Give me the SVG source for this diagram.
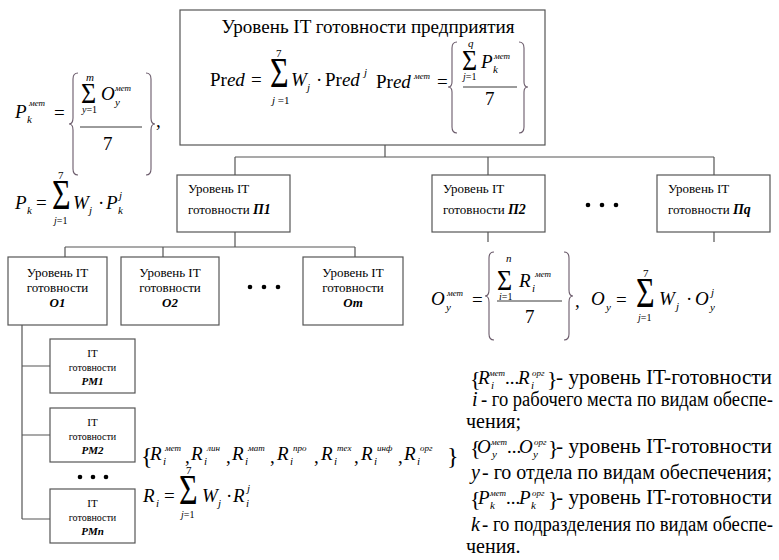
<svg xmlns="http://www.w3.org/2000/svg" width="779" height="560" viewBox="0 0 779 560">
<style>
text{font-family:"Liberation Serif",serif}
.i{font-style:italic}
.bi{font-style:italic;font-weight:bold}
.box{fill:#fff;stroke:#555;stroke-width:1.2}
.ln{stroke:#555;fill:none;stroke-width:1.2}
.br{stroke:#6a5a6a;fill:none;stroke-width:1.1}
.fl{stroke:#222;stroke-width:0.9}
.dot{fill:#000}
.m{font-size:19px}
.s{font-size:11px}
.ss{font-size:9px}
.bx{font-size:13px}
.rm{font-size:11px}
.tx{font-size:20px}
</style>

<g id="connectors">
<path class="ln" d="M385 145V157M235 157H714M235 157V175M488 157V175M714 157V175"/>
<path class="ln" d="M235 232V247M65 247H355M65 247V257M163 247V257M355 247V257"/>
<path class="ln" d="M488 232V242M714 232V242"/>
<path class="ln" d="M22 325V519M22 366H50M22 435H50M22 519H50"/>
</g>

<g id="node-enterprise">
<rect class="box" x="180" y="10" width="365" height="135"/>
<text font-family="Liberation Serif" x="368" y="33" font-size="19" text-anchor="middle" textLength="293" lengthAdjust="spacingAndGlyphs">Уровень IT готовности предприятия</text>
<text font-family="Liberation Serif" class="m" x="210" y="86">Pr<tspan class="i">ed</tspan></text>
<text font-family="Liberation Serif" class="m" x="251" y="86">=</text>
<text font-family="Liberation Serif" font-size="32" transform="translate(270 87) scale(1 1.35)">Σ</text>
<text font-family="Liberation Serif" class="s" x="276" y="57">7</text>
<text font-family="Liberation Serif" class="s" x="272" y="104"><tspan class="i">j</tspan> =1</text>
<text font-family="Liberation Serif" class="m i" x="291" y="86">W</text>
<text font-family="Liberation Serif" class="s i" x="307" y="91">j</text>
<text font-family="Liberation Serif" class="m" x="316" y="86">·</text>
<text font-family="Liberation Serif" class="m" x="325" y="86">Pr<tspan class="i">ed</tspan></text>
<text font-family="Liberation Serif" class="s i" x="364" y="76">j</text>
<text font-family="Liberation Serif" class="m" x="376" y="88">Pr<tspan class="i">ed</tspan></text>
<text font-family="Liberation Serif" class="ss i" x="414" y="79">мет</text>
<text font-family="Liberation Serif" class="m" x="437" y="88">=</text>
<path class="br" d="M457 42Q452 42 452 48V82Q452 87 448 87Q452 87 452 92V127Q452 133 457 133"/>
<text font-family="Liberation Serif" font-size="26" transform="translate(462 70) scale(1 1.1)">Σ</text>
<text font-family="Liberation Serif" class="s i" x="468" y="47">q</text>
<text font-family="Liberation Serif" font-size="10" x="463" y="80"><tspan class="i">j</tspan>=1</text>
<text font-family="Liberation Serif" class="m i" x="481" y="68">P</text>
<text font-family="Liberation Serif" class="s i" x="493" y="73">k</text>
<text font-family="Liberation Serif" class="ss i" x="494" y="59">мет</text>
<line class="fl" x1="463" y1="87" x2="517" y2="87"/>
<text font-family="Liberation Serif" class="m" x="485" y="105">7</text>
<path class="br" d="M519 42Q524 42 524 48V82Q524 87 528 87Q524 87 524 92V127Q524 133 519 133"/>
</g>

<g id="formula-pk">
<text font-family="Liberation Serif" class="m i" x="15" y="118">P</text>
<text font-family="Liberation Serif" class="s i" x="27" y="123">k</text>
<text font-family="Liberation Serif" class="ss i" x="29" y="106">мет</text>
<text font-family="Liberation Serif" class="m" x="54" y="119">=</text>
<path class="br" d="M78 73Q73 73 73 79V118Q73 124 69 124Q73 124 73 130V169Q73 175 78 175"/>
<text font-family="Liberation Serif" font-size="26" transform="translate(81 103) scale(1 1.1)">Σ</text>
<text font-family="Liberation Serif" class="s i" x="86" y="81">m</text>
<text font-family="Liberation Serif" font-size="10" x="82" y="113"><tspan class="i">y</tspan>=1</text>
<text font-family="Liberation Serif" class="m i" x="101" y="100">O</text>
<text font-family="Liberation Serif" class="s i" x="115" y="106">y</text>
<text font-family="Liberation Serif" class="ss i" x="115" y="91">мет</text>
<line class="fl" x1="80" y1="127" x2="142" y2="127"/>
<text font-family="Liberation Serif" class="m" x="103" y="150">7</text>
<path class="br" d="M146 73Q151 73 151 79V118Q151 124 155 124Q151 124 151 130V169Q151 175 146 175"/>
<text font-family="Liberation Serif" class="m" x="156" y="127">,</text>
<text font-family="Liberation Serif" class="m i" x="15" y="209">P</text>
<text font-family="Liberation Serif" class="s i" x="27" y="214">k</text>
<text font-family="Liberation Serif" class="m" x="36" y="209">=</text>
<text font-family="Liberation Serif" font-size="32" transform="translate(52 209) scale(1 1.35)">Σ</text>
<text font-family="Liberation Serif" class="s" x="58" y="179">7</text>
<text font-family="Liberation Serif" font-size="10" x="54" y="224"><tspan class="i">j</tspan>=1</text>
<text font-family="Liberation Serif" class="m i" x="73" y="209">W</text>
<text font-family="Liberation Serif" class="s i" x="89" y="214">j</text>
<text font-family="Liberation Serif" class="m" x="98" y="209">·</text>
<text font-family="Liberation Serif" class="m i" x="106" y="209">P</text>
<text font-family="Liberation Serif" class="s i" x="118" y="214">k</text>
<text font-family="Liberation Serif" class="s i" x="119" y="199">j</text>
</g>

<g id="node-p1">
<rect class="box" x="177" y="175" width="113" height="57"/>
<text font-family="Liberation Serif" class="bx" x="188" y="193">Уровень IT</text>
<text font-family="Liberation Serif" class="bx" x="188" y="214">готовности <tspan class="bi" font-size="14">П1</tspan></text>
</g>
<g id="node-p2">
<rect class="box" x="432" y="175" width="113" height="57"/>
<text font-family="Liberation Serif" class="bx" x="443" y="193">Уровень IT</text>
<text font-family="Liberation Serif" class="bx" x="443" y="214">готовности <tspan class="bi" font-size="14">П2</tspan></text>
</g>
<g id="dots-p">
<circle class="dot" cx="588" cy="205" r="2.3"/><circle class="dot" cx="602" cy="205" r="2.3"/><circle class="dot" cx="616" cy="205" r="2.3"/>
</g>
<g id="node-pq">
<rect class="box" x="657" y="175" width="113" height="57"/>
<text font-family="Liberation Serif" class="bx" x="668" y="193">Уровень IT</text>
<text font-family="Liberation Serif" class="bx" x="668" y="214">готовности <tspan class="bi" font-size="14">Пq</tspan></text>
</g>

<g id="node-o1">
<rect class="box" x="8" y="257" width="99" height="68"/>
<text font-family="Liberation Serif" class="bx" x="57.5" y="277" text-anchor="middle">Уровень IT</text>
<text font-family="Liberation Serif" class="bx" x="57.5" y="292" text-anchor="middle">готовности</text>
<text font-family="Liberation Serif" class="bx bi" x="57.5" y="307" text-anchor="middle">O1</text>
</g>
<g id="node-o2">
<rect class="box" x="121" y="257" width="98" height="68"/>
<text font-family="Liberation Serif" class="bx" x="170" y="277" text-anchor="middle">Уровень IT</text>
<text font-family="Liberation Serif" class="bx" x="170" y="292" text-anchor="middle">готовности</text>
<text font-family="Liberation Serif" class="bx bi" x="170" y="307" text-anchor="middle">O2</text>
</g>
<g id="dots-o">
<circle class="dot" cx="250" cy="287" r="2.3"/><circle class="dot" cx="264" cy="287" r="2.3"/><circle class="dot" cx="278" cy="287" r="2.3"/>
</g>
<g id="node-om">
<rect class="box" x="303" y="257" width="100" height="68"/>
<text font-family="Liberation Serif" class="bx" x="353" y="277" text-anchor="middle">Уровень IT</text>
<text font-family="Liberation Serif" class="bx" x="353" y="292" text-anchor="middle">готовности</text>
<text font-family="Liberation Serif" class="bx bi" x="353" y="307" text-anchor="middle">Om</text>
</g>

<g id="node-rm1">
<rect class="box" x="50" y="339" width="85" height="54"/>
<text font-family="Liberation Serif" class="rm" x="92.5" y="357" text-anchor="middle">IT</text>
<text font-family="Liberation Serif" font-size="10" x="92.5" y="371" text-anchor="middle">готовности</text>
<text font-family="Liberation Serif" class="rm bi" x="92.5" y="385" text-anchor="middle">PM1</text>
</g>
<g id="node-rm2">
<rect class="box" x="50" y="408" width="85" height="54"/>
<text font-family="Liberation Serif" class="rm" x="92.5" y="426" text-anchor="middle">IT</text>
<text font-family="Liberation Serif" font-size="10" x="92.5" y="440" text-anchor="middle">готовности</text>
<text font-family="Liberation Serif" class="rm bi" x="92.5" y="454" text-anchor="middle">PM2</text>
</g>
<g id="dots-rm">
<circle class="dot" cx="80" cy="477" r="2.3"/><circle class="dot" cx="93" cy="477" r="2.3"/><circle class="dot" cx="106" cy="477" r="2.3"/>
</g>
<g id="node-rmn">
<rect class="box" x="50" y="489" width="85" height="54"/>
<text font-family="Liberation Serif" class="rm" x="92.5" y="507" text-anchor="middle">IT</text>
<text font-family="Liberation Serif" font-size="10" x="92.5" y="521" text-anchor="middle">готовности</text>
<text font-family="Liberation Serif" class="rm bi" x="92.5" y="535" text-anchor="middle">PMn</text>
</g>

<g id="formula-oy">
<text font-family="Liberation Serif" class="m i" x="431" y="305">O</text>
<text font-family="Liberation Serif" class="s i" x="446" y="311">y</text>
<text font-family="Liberation Serif" class="ss i" x="447" y="296">мет</text>
<text font-family="Liberation Serif" class="m" x="472" y="306">=</text>
<path class="br" d="M494 252Q489 252 489 258V290Q489 296 485 296Q489 296 489 302V334Q489 340 494 340"/>
<text font-family="Liberation Serif" font-size="26" transform="translate(497 290) scale(1 1.1)">Σ</text>
<text font-family="Liberation Serif" class="s i" x="506" y="262">n</text>
<text font-family="Liberation Serif" font-size="10" x="499" y="300"><tspan class="i">i</tspan>=1</text>
<text font-family="Liberation Serif" class="m i" x="519" y="287">R</text>
<text font-family="Liberation Serif" class="s i" x="532" y="292">i</text>
<text font-family="Liberation Serif" class="ss i" x="535" y="277">мет</text>
<line class="fl" x1="497" y1="301" x2="562" y2="301"/>
<text font-family="Liberation Serif" class="m" x="525" y="323">7</text>
<path class="br" d="M564 252Q569 252 569 258V290Q569 296 573 296Q569 296 569 302V334Q569 340 564 340"/>
<text font-family="Liberation Serif" class="m" x="575" y="307">,</text>
<text font-family="Liberation Serif" class="m i" x="591" y="305">O</text>
<text font-family="Liberation Serif" class="s i" x="606" y="311">y</text>
<text font-family="Liberation Serif" class="m" x="616" y="306">=</text>
<text font-family="Liberation Serif" font-size="32" transform="translate(636 307) scale(1 1.35)">Σ</text>
<text font-family="Liberation Serif" class="s" x="643" y="277">7</text>
<text font-family="Liberation Serif" font-size="10" x="638" y="321"><tspan class="i">j</tspan>=1</text>
<text font-family="Liberation Serif" class="m i" x="659" y="305">W</text>
<text font-family="Liberation Serif" class="s i" x="676" y="310">j</text>
<text font-family="Liberation Serif" class="m" x="686" y="305">·</text>
<text font-family="Liberation Serif" class="m i" x="695" y="305">O</text>
<text font-family="Liberation Serif" class="s i" x="710" y="311">y</text>
<text font-family="Liberation Serif" class="s i" x="711" y="296">j</text>
</g>

<g id="formula-ri">
<text font-family="Liberation Serif" x="141" y="464" font-size="24">{</text>
<text font-family="Liberation Serif" class="m i" x="150" y="460">R</text><text font-family="Liberation Serif" class="s i" x="163" y="465">i</text><text font-family="Liberation Serif" class="ss i" x="165" y="451">мет</text>
<text font-family="Liberation Serif" class="m" x="185" y="463">,</text>
<text font-family="Liberation Serif" class="m i" x="191" y="460">R</text><text font-family="Liberation Serif" class="s i" x="204" y="465">i</text><text font-family="Liberation Serif" class="ss i" x="207" y="451">лин</text>
<text font-family="Liberation Serif" class="m" x="226" y="463">,</text>
<text font-family="Liberation Serif" class="m i" x="232" y="460">R</text><text font-family="Liberation Serif" class="s i" x="245" y="465">i</text><text font-family="Liberation Serif" class="ss i" x="248" y="451">мат</text>
<text font-family="Liberation Serif" class="m" x="270" y="463">,</text>
<text font-family="Liberation Serif" class="m i" x="277" y="460">R</text><text font-family="Liberation Serif" class="s i" x="290" y="465">i</text><text font-family="Liberation Serif" class="ss i" x="293" y="451">про</text>
<text font-family="Liberation Serif" class="m" x="314" y="463">,</text>
<text font-family="Liberation Serif" class="m i" x="321" y="460">R</text><text font-family="Liberation Serif" class="s i" x="334" y="465">i</text><text font-family="Liberation Serif" class="ss i" x="337" y="451">тех</text>
<text font-family="Liberation Serif" class="m" x="354" y="463">,</text>
<text font-family="Liberation Serif" class="m i" x="361" y="460">R</text><text font-family="Liberation Serif" class="s i" x="374" y="465">i</text><text font-family="Liberation Serif" class="ss i" x="377" y="451">инф</text>
<text font-family="Liberation Serif" class="m" x="398" y="463">,</text>
<text font-family="Liberation Serif" class="m i" x="404" y="460">R</text><text font-family="Liberation Serif" class="s i" x="417" y="465">i</text><text font-family="Liberation Serif" class="ss i" x="420" y="451">орг</text>
<text font-family="Liberation Serif" x="447" y="464" font-size="24">}</text>
<text font-family="Liberation Serif" class="m i" x="143" y="502">R</text>
<text font-family="Liberation Serif" class="s i" x="156" y="507">i</text>
<text font-family="Liberation Serif" class="m" x="164" y="502">=</text>
<text font-family="Liberation Serif" font-size="32" transform="translate(179 504) scale(1 1.35)">Σ</text>
<text font-family="Liberation Serif" class="s" x="186" y="474">7</text>
<text font-family="Liberation Serif" font-size="10" x="181" y="518"><tspan class="i">j</tspan>=1</text>
<text font-family="Liberation Serif" class="m i" x="202" y="502">W</text>
<text font-family="Liberation Serif" class="s i" x="218" y="507">j</text>
<text font-family="Liberation Serif" class="m" x="226" y="502">·</text>
<text font-family="Liberation Serif" class="m i" x="233" y="502">R</text>
<text font-family="Liberation Serif" class="s i" x="246" y="507">i</text>
<text font-family="Liberation Serif" class="s i" x="247" y="492">j</text>
</g>

<g id="legend">
<text font-family="Liberation Serif" x="470" y="386" font-size="22">{</text>
<text font-family="Liberation Serif" class="m i" x="478" y="384">R</text><text font-family="Liberation Serif" class="s i" x="491" y="389">i</text><text font-family="Liberation Serif" class="ss i" x="489" y="376">мет</text>
<text font-family="Liberation Serif" class="m" x="505" y="384">...</text>
<text font-family="Liberation Serif" class="m i" x="518" y="384">R</text><text font-family="Liberation Serif" class="s i" x="531" y="389">i</text><text font-family="Liberation Serif" class="ss i" x="532" y="376">орг</text>
<text font-family="Liberation Serif" x="547" y="386" font-size="22">}</text>
<text font-family="Liberation Serif" class="tx" x="556" y="384" textLength="216" lengthAdjust="spacingAndGlyphs">- уровень IT-готовности</text>
<text font-family="Liberation Serif" class="tx i" x="472" y="406">i</text>
<text font-family="Liberation Serif" class="tx" x="481" y="406" textLength="292" lengthAdjust="spacingAndGlyphs">- го рабочего места по видам обеспе-</text>
<text font-family="Liberation Serif" class="tx" x="466" y="428">чения;</text>
<text font-family="Liberation Serif" x="470" y="455" font-size="22">{</text>
<text font-family="Liberation Serif" class="m i" x="477" y="453">O</text><text font-family="Liberation Serif" class="s i" x="492" y="458">y</text><text font-family="Liberation Serif" class="ss i" x="491" y="445">мет</text>
<text font-family="Liberation Serif" class="m" x="507" y="453">...</text>
<text font-family="Liberation Serif" class="m i" x="519" y="453">O</text><text font-family="Liberation Serif" class="s i" x="533" y="458">y</text><text font-family="Liberation Serif" class="ss i" x="534" y="445">орг</text>
<text font-family="Liberation Serif" x="548" y="455" font-size="22">}</text>
<text font-family="Liberation Serif" class="tx" x="556" y="453" textLength="216" lengthAdjust="spacingAndGlyphs">- уровень IT-готовности</text>
<text font-family="Liberation Serif" class="tx i" x="471" y="479">y</text>
<text font-family="Liberation Serif" class="tx" x="482" y="479" textLength="290" lengthAdjust="spacingAndGlyphs">- го отдела по видам обеспечения;</text>
<text font-family="Liberation Serif" x="470" y="506" font-size="22">{</text>
<text font-family="Liberation Serif" class="m i" x="478" y="504">P</text><text font-family="Liberation Serif" class="s i" x="490" y="509">k</text><text font-family="Liberation Serif" class="ss i" x="490" y="496">мет</text>
<text font-family="Liberation Serif" class="m" x="506" y="504">...</text>
<text font-family="Liberation Serif" class="m i" x="519" y="504">P</text><text font-family="Liberation Serif" class="s i" x="531" y="509">k</text><text font-family="Liberation Serif" class="ss i" x="532" y="496">орг</text>
<text font-family="Liberation Serif" x="548" y="506" font-size="22">}</text>
<text font-family="Liberation Serif" class="tx" x="556" y="504" textLength="216" lengthAdjust="spacingAndGlyphs">- уровень IT-готовности</text>
<text font-family="Liberation Serif" class="tx i" x="471" y="531">k</text>
<text font-family="Liberation Serif" class="tx" x="482" y="531" textLength="291" lengthAdjust="spacingAndGlyphs">- го подразделения по видам обеспе-</text>
<text font-family="Liberation Serif" class="tx" x="466" y="553">чения.</text>
</g>
</svg>
